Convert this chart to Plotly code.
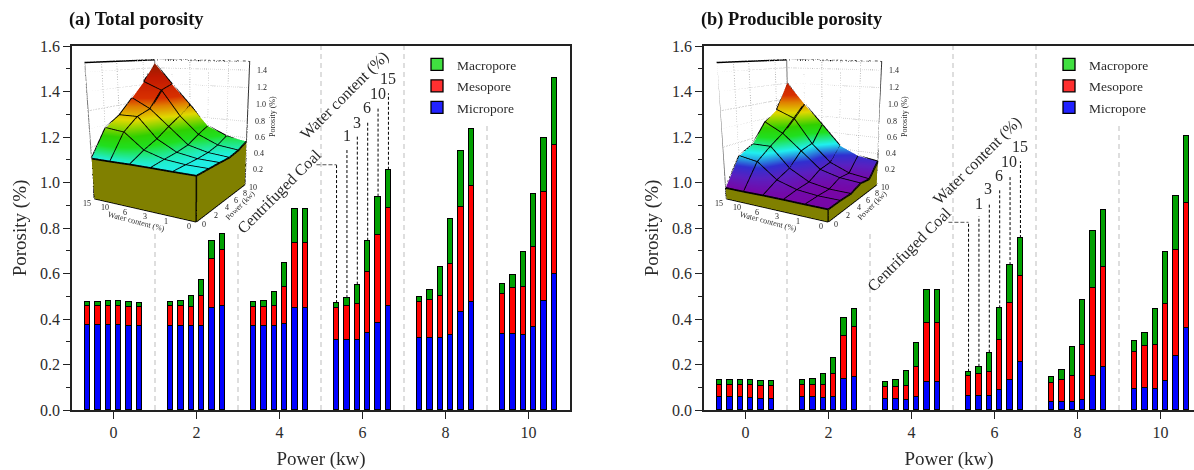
import plotly.graph_objects as go

W, H = 1194, 470
powers = [0, 2, 4, 6, 8, 10]
water = [0, 1, 3, 6, 10, 15]
offsets = [-0.625, -0.375, -0.125, 0.125, 0.375, 0.625]

# cumulative heights read from the stacks, one row per power, one column per water content
a_micro = [[.375,.375,.375,.372,.370,.371],
           [.371,.371,.370,.370,.450,.455],
           [.370,.370,.368,.378,.447,.447],
           [.309,.309,.309,.338,.382,.459],
           [.318,.318,.318,.328,.432,.473],
           [.333,.334,.330,.365,.478,.598]]
a_meso_top = [[.455,.455,.456,.456,.451,.451],
              [.455,.455,.452,.500,.665,.705],
              [.451,.451,.455,.541,.734,.734],
              [.448,.457,.466,.607,.769,.888],
              [.475,.485,.501,.642,.892,.983],
              [.510,.536,.541,.718,.958,1.165]]
a_total = [[.475,.475,.477,.477,.473,.472],
           [.475,.478,.501,.570,.745,.772],
           [.474,.481,.520,.645,.882,.882],
           [.470,.492,.551,.744,.938,1.056],
           [.497,.527,.629,.838,1.138,1.234],
           [.554,.593,.695,.948,1.197,1.459]]

b_micro = [[.055,.055,.055,.053,.050,.050],
           [.055,.055,.052,.055,.135,.143],
           [.047,.047,.044,.055,.124,.124],
           [.062,.062,.062,.088,.133,.211],
           [.035,.035,.035,.045,.149,.190],
           [.092,.097,.092,.129,.239,.362]]
b_meso_top = [[.108,.108,.108,.112,.107,.107],
              [.108,.108,.110,.157,.324,.363],
              [.101,.101,.104,.190,.383,.383],
              [.149,.158,.166,.308,.470,.590],
              [.119,.132,.148,.287,.538,.629],
              [.256,.281,.286,.466,.703,.910]]
b_total = [[.131,.131,.133,.133,.129,.129],
           [.133,.135,.158,.227,.403,.442],
           [.125,.130,.170,.296,.528,.528],
           [.168,.190,.252,.447,.637,.756],
           [.144,.176,.275,.485,.785,.879],
           [.302,.338,.442,.695,.942,1.206]]

a_leader_tops = [1.143, 1.204, 1.269, 1.330, 1.392]
b_leader_tops = [.851, .910, .967, 1.030, 1.093]
a_coal_level, b_coal_level = 1.078, .825
series_names = ["Micropore", "Mesopore", "Macropore"]
bar_colors = ["#0000ff", "#ff0000", "#00a000"]
legend_colors = ["#2222ff", "#ff3030", "#40e040"]
z_ticks = [.2, .4, .6, .8, 1.0, 1.2, 1.4]
ZMAX = 1.5
SERIF = "Liberation Serif"
INK = "#2b2b2b"

surface_scale = [[0, "#7f00a0"], [.11, "#5a20c0"], [.18, "#3030d0"], [.27, "#20f0f0"],
                 [.37, "#20e020"], [.44, "#30d000"], [.55, "#e0d800"], [.64, "#e08000"],
                 [.70, "#d83000"], [.88, "#c01800"], [1, "#902000"]]
flat_light = dict(ambient=1, diffuse=0, specular=0, roughness=1, fresnel=0)

def px(x): return x / W
def py(y): return 1 - y / H

fig = go.Figure()

def flat(rows): return [v for r in rows for v in r]

def add_panel(micro, top, total, xa, ya, legend, scene, leader_tops, coal_level):
    xs = [p + o for p in powers for o in offsets]
    m = flat(micro); t = flat(top); s = flat(total)
    parts = [m, [b - c for b, c in zip(t, m)], [b - c for b, c in zip(s, t)]]
    for col, vals in zip(bar_colors, parts):
        fig.add_trace(go.Bar(x=xs, y=vals, xaxis=xa, yaxis=ya, width=.135, showlegend=False,
                             marker=dict(color=col, line=dict(color="#000", width=1))))
    for name, lcol in reversed(list(zip(series_names, legend_colors))):
        fig.add_trace(go.Bar(x=[None], y=[None], xaxis=xa, yaxis=ya, name=name, legend=legend,
                             legendgroup=f"{legend}{name}",
                             marker=dict(color=lcol, line=dict(color="#000", width=1.3))))
    xr, yr = xa, ya
    for i, tp in enumerate(leader_tops):
        x0 = powers[3] + offsets[i + 1]
        fig.add_shape(type="line", xref=xr, yref=yr, x0=x0, x1=x0, y0=total[3][i + 1], y1=tp,
                      line=dict(color="#000", width=1, dash="3px,2px"))
    x0 = powers[3] + offsets[0]
    fig.add_shape(type="line", xref=xr, yref=yr, x0=x0, x1=x0, y0=total[3][0], y1=coal_level,
                  line=dict(color="#000", width=1, dash="3px,2px"))
    fig.add_shape(type="line", xref=xr, yref=yr, x0=4.89, x1=x0, y0=coal_level, y1=coal_level,
                  line=dict(color="#555", width=1, dash="4px,2px"))
    for sx in [1, 3, 5, 7, 9]:
        upper = {1: .78, 3: .78, 5: 1.6, 7: 1.6, 9: 1.26}[sx]
        fig.add_shape(type="line", xref=xr, yref=yr, x0=sx, x1=sx, y0=0, y1=upper, layer="below",
                      line=dict(color="#c8c8c8", width=1.2, dash="5px,4px"))
    w_idx = list(range(len(water)))
    z = [[total[p][w] for p in range(len(powers))] for w in w_idx]
    fig.add_trace(go.Surface(x=powers, y=w_idx, z=z, scene=scene, showscale=False,
                             colorscale=surface_scale, cmin=.1, cmax=1.46,
                             lighting=flat_light, hoverinfo="skip"))
    olive = [[0, "#808000"], [1, "#808000"]]
    wall1 = dict(x=[[0] * 6, [0] * 6], y=[w_idx, w_idx], z=[[0] * 6, [total[0][w] for w in w_idx]])
    wall2 = dict(x=[powers, powers], y=[[0] * 6, [0] * 6], z=[[0] * 6, [total[p][0] for p in range(6)]])
    for wl in (wall1, wall2):
        fig.add_trace(go.Surface(**wl, scene=scene, showscale=False, colorscale=olive,
                                 surfacecolor=[[0] * 6, [0] * 6], cmin=0, cmax=1,
                                 lighting=flat_light, hoverinfo="skip"))
    def line3d(x, y, z_, color="#000", width=3.5, dash=None):
        fig.add_trace(go.Scatter3d(x=x, y=y, z=z_, mode="lines", scene=scene, showlegend=False,
                                   line=dict(color=color, width=width, dash=dash), hoverinfo="skip"))
    for w in w_idx:
        line3d(powers, [w] * 6, z[w])
    for p in range(6):
        line3d([powers[p]] * 6, w_idx, [z[w][p] for w in w_idx])
    line3d([0, 0], [0, 0], [0, total[0][0]], width=3)
    line3d([0, 10], [0, 0], [0, 0], width=3)
    line3d([0, 0], [0, 5], [0, 0], width=3)
    line3d([10, 10], [0, 0], [0, total[5][0]], width=3)
    line3d([0, 0], [5, 5], [0, total[0][5]], width=3)
    grid = "#a8a8a8"
    for zt in z_ticks:
        line3d([0, 10], [5, 5], [zt, zt], grid, 1.8, "dash")
        line3d([10, 10], [0, 5], [zt, zt], grid, 1.8, "dash")
        line3d([10, 10], [0, -.12], [zt, zt], "#222", 1.8)
    for p in powers[1:-1]:
        line3d([p, p], [5, 5], [0, ZMAX], grid, 1.8, "dash")
    for p in powers:
        line3d([p, p], [0, -.12], [0, 0], "#222", 1.8)
    for w in w_idx[1:-1]:
        line3d([10, 10], [w, w], [0, ZMAX], grid, 1.8, "dash")
    for w in w_idx:
        line3d([0, -.24], [w, w], [0, 0], "#222", 1.8)
    line3d([0, 10, 10], [5, 5, 0], [ZMAX, ZMAX, ZMAX], "#000", 3)
    line3d([10, 10], [0, 0], [total[5][0], ZMAX], "#333", 2)
    line3d([0, 0], [5, 5], [total[0][5], ZMAX], "#777", 2)
    line3d([10, 10], [5, 5], [0, ZMAX], "#777", 2)

add_panel(a_micro, a_meso_top, a_total, "x", "y", "legend", "scene", a_leader_tops, a_coal_level)
add_panel(b_micro, b_meso_top, b_total, "x2", "y2", "legend2", "scene2", b_leader_tops, b_coal_level)

def y_axis(dom, title):
    return dict(domain=dom, range=[0, 1.6], tick0=0, dtick=.2, ticks="outside", ticklen=7, tickwidth=1.3,
                tickformat=".1f", showgrid=False, zeroline=False, showline=True, linecolor="#222",
                linewidth=1.5, mirror=True, tickcolor="#222", automargin=False,
                tickfont=dict(family=SERIF, size=16, color=INK),
                title=dict(text=title, font=dict(family=SERIF, size=19, color=INK), standoff=8),
                minor=dict(dtick=.1, ticks="outside", ticklen=4, tickwidth=1.2, tickcolor="#222", showgrid=False))

def x_axis(dom, rng, anchor, title):
    return dict(domain=dom, range=rng, anchor=anchor, tickvals=powers, ticks="outside", ticklen=7, tickwidth=1.3,
                showgrid=False, zeroline=False, showline=True, linecolor="#222", linewidth=1.5, mirror=True,
                tickcolor="#222", automargin=False, tickfont=dict(family=SERIF, size=16, color=INK),
                title=dict(text=title, font=dict(family=SERIF, size=19, color=INK), standoff=14))

ydom = [py(410), py(46)]

def scene_labels():
    tick = dict(family=SERIF, size=8, color="#222")
    out = []
    for p in powers:
        out.append(dict(x=p, y=0, z=0, text=str(p), showarrow=False, font=tick, xshift=8, yshift=-3))
    for w, lab in zip(range(6), water):
        out.append(dict(x=0, y=w, z=0, text=str(lab), showarrow=False, font=tick, xshift=-7, yshift=-5))
    for zt in z_ticks:
        out.append(dict(x=10, y=0, z=zt, text=f"{zt:.1f}", showarrow=False, font=tick, xshift=13, yshift=0))
    return out

def scene_layout(x0):
    hidden = dict(visible=False, showspikes=False)
    return dict(
        domain=dict(x=[px(x0), px(x0 + 380)], y=[py(331), 1]),
        bgcolor="rgba(0,0,0,0)",
        aspectmode="manual", aspectratio=dict(x=1.25, y=1.27, z=1.45),
        camera=dict(eye=dict(x=-3.717, y=-2.281, z=.85), center=dict(x=.094, y=-.169, z=-.415), up=dict(x=0, y=0, z=1),
                    projection=dict(type="perspective")),
        xaxis=dict(hidden, range=[0, 10]),
        yaxis=dict(hidden, range=[0, 5]),
        zaxis=dict(hidden, range=[0, ZMAX]),
        annotations=scene_labels(),
    )

def legend_layout(x):
    return dict(x=px(x), y=py(49), xanchor="left", yanchor="top", bgcolor="rgba(255,255,255,0)",
                traceorder="grouped", tracegroupgap=1, itemwidth=30,
                font=dict(family=SERIF, size=13.5, color=INK), borderwidth=0, itemclick=False)

def note(text, x, y, size=16, angle=0, bold=False, anchor="center"):
    return dict(text=f"<b>{text}</b>" if bold else text, x=px(x), y=py(y), xref="paper", yref="paper", showarrow=False,
                xanchor=anchor, yanchor="middle", textangle=angle,
                font=dict(family=SERIF, size=size, color="#111" if bold else INK))

notes = [
    note("(a) Total porosity", 67, 19, 18.4, bold=True, anchor="left"),
    note("(b) Producible porosity", 699, 19, 18.4, bold=True, anchor="left"),
    note("Water content (%)", 345, 95, 16, -45),
    note("Centrifuged Coal", 279, 192, 16, -45),
    note("Water content (%)", 977, 161, 16, -45),
    note("Centrifuged Coal", 909, 250, 16, -45),
]
for lab, xy in zip(water[1:], [(347, 135), (357, 122), (367, 107), (378, 93), (388, 79)]):
    notes.append(note(str(lab), xy[0], xy[1]))
for lab, xy in zip(water[1:], [(979, 203), (988, 188), (999, 175), (1009, 162), (1020, 147)]):
    notes.append(note(str(lab), xy[0], xy[1]))
for dx in (0, 632):
    notes.append(note("Water content (%)", 136 + dx, 221, 8, 15))
    notes.append(note("Power (kw)", 240 + dx, 205, 8, -45))
    notes.append(note("Porosity (%)", 273 + dx, 117, 8, -90))

def fine_y(over, anchor, dom):
    return dict(overlaying=over, anchor=anchor, side="right", range=[0, 1.6], dtick=.1, ticks="outside",
                ticklen=2, tickcolor="#222", showticklabels=False, showgrid=False, zeroline=False, showline=False)

def fine_x(over, rng):
    return dict(overlaying=over, side="top", range=rng, tickvals=powers + [1, 3, 5, 7, 9], ticks="outside",
                ticklen=2, tickcolor="#222", showticklabels=False, showgrid=False, zeroline=False, showline=False)

rng_a, rng_b = [-1, 11], [-1, (W - 704) / 41.5 - 1]
fig.update_layout(
    width=W, height=H, margin=dict(l=0, r=0, t=0, b=0), autosize=False,
    paper_bgcolor="#fff", plot_bgcolor="#fff", barmode="stack", bargap=0,
    font=dict(family=SERIF), hovermode=False,
    xaxis=x_axis([px(72), px(570)], rng_a, "y", "Power (kw)"),
    yaxis=y_axis(ydom, "Porosity (%)"),
    xaxis2=x_axis([px(704), 1], rng_b, "y2", "Power (kw)"),
    yaxis2=dict(y_axis(ydom, "Porosity (%)"), anchor="x2"),
    xaxis3=dict(fine_x("x", rng_a), anchor="y3"),
    yaxis3=fine_y("y", "x3", ydom),
    xaxis4=dict(fine_x("x2", rng_b), anchor="y4"),
    yaxis4=fine_y("y2", "x4", ydom),
    scene=scene_layout(0),
    scene2=scene_layout(632),
    legend=legend_layout(417),
    legend2=legend_layout(1049),
    annotations=notes,
)

fig.write_html("out.html", config={"displayModeBar": False}, post_script="document.body.style.margin='0';")
